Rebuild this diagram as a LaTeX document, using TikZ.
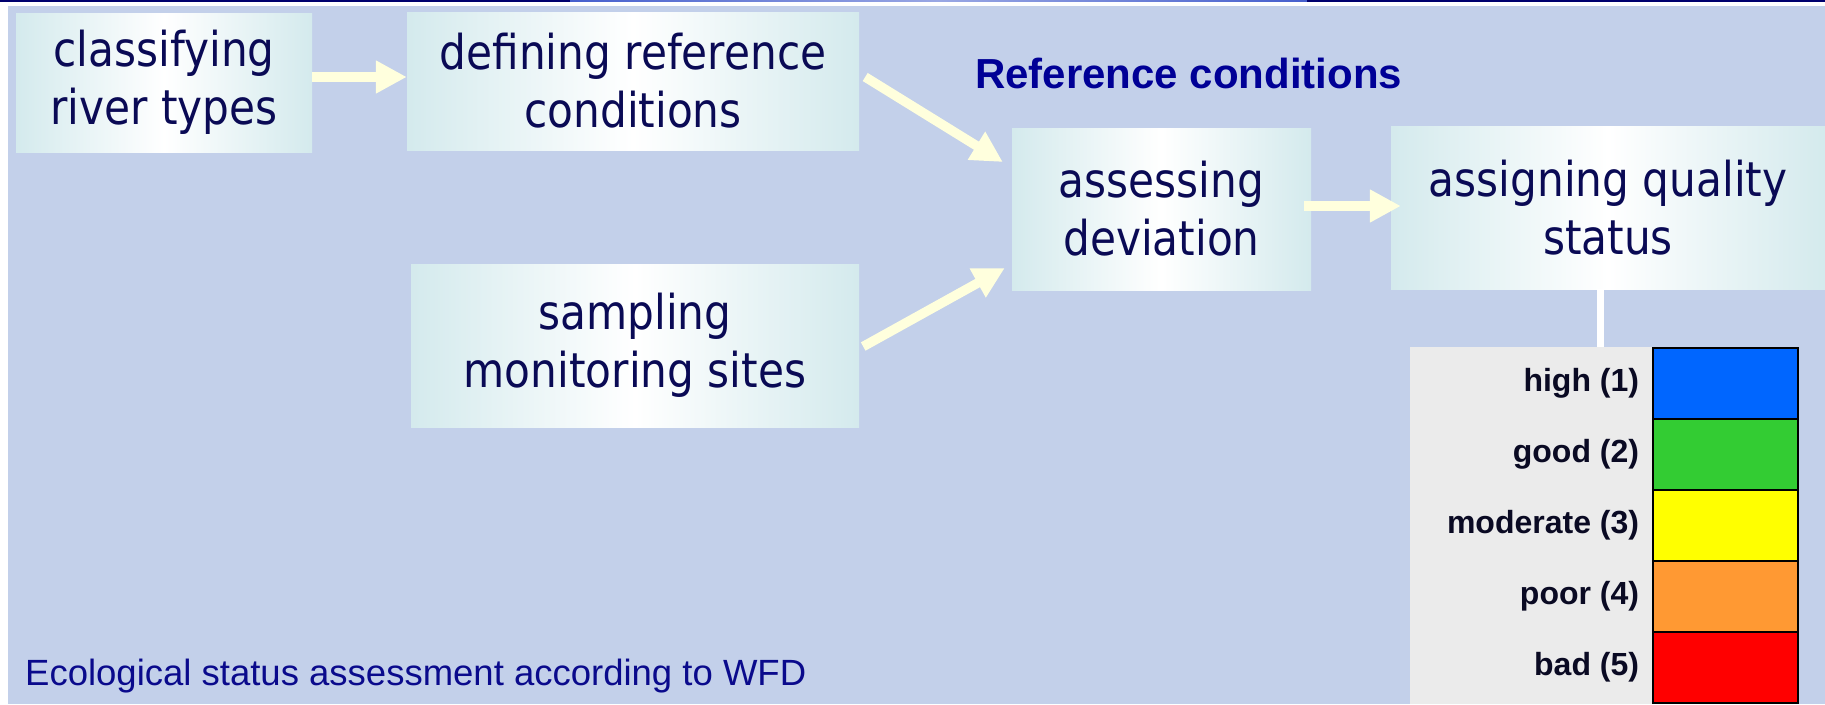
\documentclass[tikz,border=0pt]{standalone}
\usepackage{fontspec}
\setmainfont{Liberation Sans}
\newfontfamily\boxfont{DejaVu Sans}[FakeStretch=0.88]
\usetikzlibrary{arrows.meta,calc}

\definecolor{slidebg}{RGB}{195,208,234}
\definecolor{boxedge}{RGB}{212,234,237}
\definecolor{boxtext}{RGB}{10,10,85}
\definecolor{arrowcream}{RGB}{255,255,221}
\definecolor{titleblue}{RGB}{0,0,150}
\definecolor{footblue}{RGB}{10,10,140}
\definecolor{headnavy}{RGB}{0,0,110}
\definecolor{headblue}{RGB}{70,95,205}
\definecolor{panelgrey}{RGB}{235,235,235}
\definecolor{labeltext}{RGB}{10,10,35}
\definecolor{qhigh}{RGB}{0,102,255}
\definecolor{qgood}{RGB}{51,204,51}
\definecolor{qmod}{RGB}{255,255,0}
\definecolor{qpoor}{RGB}{255,153,51}
\definecolor{qbad}{RGB}{255,0,0}

\tikzset{
  stepbox/.style={inner sep=0pt, align=center, text=boxtext,
    font=\boxfont\fontsize{48}{58}\selectfont,
    left color=boxedge, right color=boxedge, middle color=white},
  flowarrow/.style={draw=arrowcream, line width=9.5pt,
    -{Triangle[length=31pt,width=31pt]}},
  linkline/.style={draw=white, line width=7pt},
  reftitle/.style={inner sep=0pt, text=titleblue,
    font=\bfseries\fontsize{42}{50}\selectfont},
  footnote/.style={inner sep=0pt, text=footblue,
    font=\fontsize{36.5}{44}\selectfont},
  legendpanel/.style={fill=panelgrey, inner sep=0pt,
    minimum width=243pt, minimum height=357pt},
  qcell/.style={draw=black, line width=1.5pt, inner sep=0pt,
    minimum width=145pt, minimum height=71pt},
  qlabel/.style={anchor=east, inner sep=0pt, text=labeltext,
    font=\bfseries\fontsize{32}{38}\selectfont}
}

\begin{document}
\begin{tikzpicture}[x=1pt,y=-1pt]
  \useasboundingbox (0,0) rectangle (1825,704);
  \fill[white] (0,0) rectangle (1825,704);
  \fill[slidebg] (8,6) rectangle (1825,704);
  \fill[headnavy] (0,0) rectangle (570,1.5);
  \shade[left color=headblue, right color=headblue, middle color=headblue!55] (570,0) rectangle (1307,1.5);
  \fill[headnavy] (1307,0) rectangle (1825,1.5);

  \node[stepbox, minimum width=296pt, minimum height=139pt] (classify) at (164,82.5) {classifying\\river types};
  \node[stepbox, minimum width=452pt, minimum height=138pt] (define) at (633,81) {defining reference\\conditions};
  \node[stepbox, minimum width=448pt, minimum height=163pt] (sample) at (635,345.5) {sampling\\monitoring sites};
  \node[stepbox, minimum width=299pt, minimum height=162pt] (assess) at (1161.5,209) {assessing\\deviation};
  \node[stepbox, minimum width=434pt, minimum height=163pt] (assign) at (1608,207.5) {assigning quality\\status};

  \node[reftitle, anchor=base west] (refcond) at (975,88) {Reference conditions};

  \draw[flowarrow] ([yshift=5.5pt]classify.east) -- ([yshift=5.5pt]classify.east -| define.west);
  \draw[flowarrow] ($(define.east)+(6,-4)$) -- ($(assess.west)+(-9,-47)$);
  \draw[flowarrow] ($(sample.east)+(4,1)$) -- ($(assess.west)+(-7,59)$);
  \draw[flowarrow] ($(assess.east)+(-7,-3)$) -- ($(assign.west)+(10,-1.5)$);

  \node[legendpanel] (panel) at (1531.5,525.5) {};
  \draw[linkline] ([xshift=-8pt]assign.south) -- ([xshift=-8pt]assign.south |- panel.north);
  \foreach \lab/\col [count=\i] in {high (1)/qhigh,good (2)/qgood,moderate (3)/qmod,poor (4)/qpoor,bad (5)/qbad}{
    \node[qcell, fill=\col] (q\i) at (1725.5,{383.5+(\i-1)*71}) {};
    \node[qlabel] at ([xshift=-13pt]q\i.west) {\lab};
  }

  \node[footnote, anchor=base west] (wfd) at (25,685) {Ecological status assessment according to WFD};
\end{tikzpicture}
\end{document}
